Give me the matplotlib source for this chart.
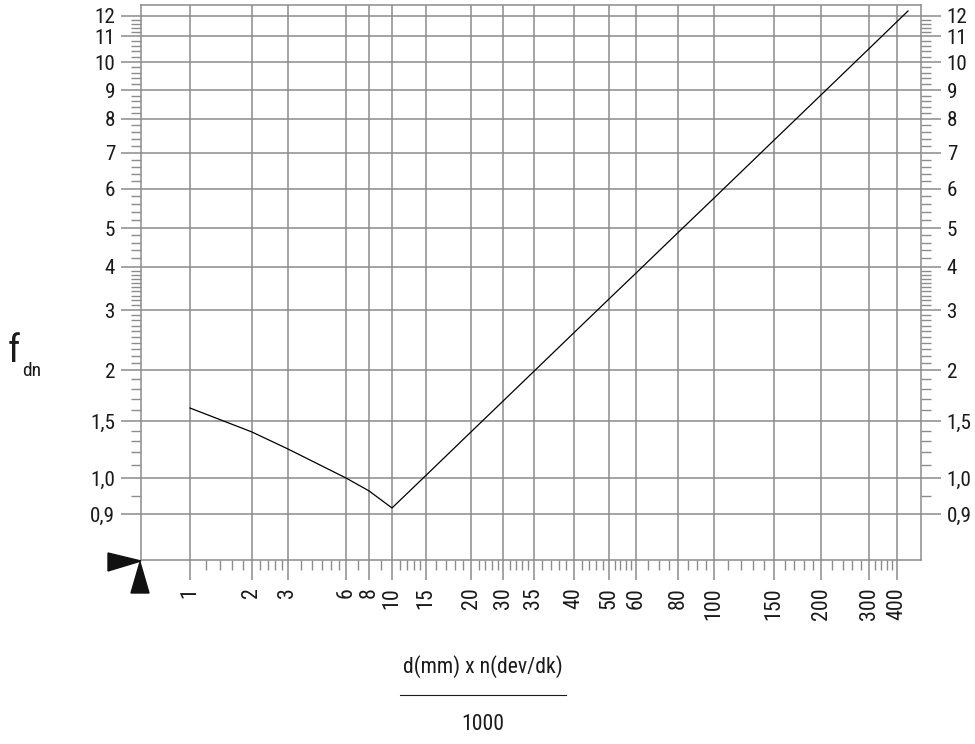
import numpy as np
import matplotlib
matplotlib.use("Agg")
import matplotlib.pyplot as plt
from matplotlib.ticker import FixedLocator, FixedFormatter
from matplotlib.patches import Polygon

plt.rcParams['font.family'] = ['Roboto Condensed', 'DejaVu Sans']

# nomogram scales: value -> printed position (pixels) for each graduation
x_marks = [0.6, 1, 2, 3, 6, 8, 10, 15, 20, 30, 35, 40, 50, 60, 80, 100, 150, 200, 300, 400, 500]
x_pos = [141, 190, 252, 288, 346, 369, 392, 426, 471, 503, 534, 574, 609, 636, 678, 714, 774, 821, 869, 897, 921]
y_marks = [0.75, 0.9, 1.0, 1.5, 2, 3, 4, 5, 6, 7, 8, 9, 10, 11, 12, 13]
y_pos = [-560, -514, -478, -421, -370, -310, -267, -228, -189, -153, -119, -90, -62, -36, -15.7, -5]

x_ticks = [1, 2, 3, 6, 8, 10, 15, 20, 30, 35, 40, 50, 60, 80, 100, 150, 200, 300, 400]
x_labels = ['1', '2', '3', '6', '8', '10', '15', '20', '30', '35', '40', '50', '60', '80',
            '100', '150', '200', '300', '400']
x_minor = [1.2, 1.4, 1.6, 1.8, 2.2, 2.4, 2.6, 2.8, 3.5, 4, 4.5, 5, 5.5, 7, 9,
           11, 12, 13, 14, 16, 17, 18, 19, 22, 24, 26, 28, 31, 32, 33, 34,
           36, 37, 38, 39, 42, 44, 46, 48, 52, 54, 56, 58, 65, 70, 75, 85, 90, 95,
           110, 120, 130, 140, 160, 170, 180, 190, 220, 240, 260, 280, 320, 340, 360, 380]

y_ticks = [0.9, 1.0, 1.5, 2, 3, 4, 5, 6, 7, 8, 9, 10, 11, 12]
y_labels = ['0,9', '1,0', '1,5', '2', '3', '4', '5', '6', '7', '8', '9', '10', '11', '12']
y_minor = [0.95, 1.1, 1.2, 1.3, 1.4, 1.6, 1.7, 1.8, 1.9,
           2.1, 2.2, 2.3, 2.4, 2.5, 2.6, 2.7, 2.8, 2.9,
           3.1, 3.2, 3.3, 3.4, 3.5, 3.6, 3.7, 3.8, 3.9,
           4.2, 4.4, 4.6, 4.8, 5.2, 5.4, 5.6, 5.8, 6.2, 6.4, 6.6, 6.8,
           7.2, 7.4, 7.6, 7.8, 8.2, 8.4, 8.6, 8.8, 9.2, 9.4, 9.6, 9.8,
           10.2, 10.4, 10.6, 10.8, 11.2, 11.4, 11.6, 11.8]

# f_dn curve
d_vals = [1, 2, 3, 6, 8, 10, 15, 20, 30, 35, 40, 50, 60, 80, 100, 150, 200, 300, 400, 443]
f_vals = [1.614, 1.387, 1.229, 1.0, 0.963, 0.916, 1.019, 1.388, 1.678, 1.986, 2.574, 3.23,
          3.84, 4.87, 5.75, 7.36, 8.82, 10.50, 11.70, 12.43]


def make_scale(vals, pos):
    lv = np.log10(vals)

    def fwd(v):
        v = np.asarray(v, dtype=float)
        return np.interp(np.log10(np.clip(v, 1e-6, None)), lv, pos)

    def inv(p):
        return 10 ** np.interp(np.asarray(p, dtype=float), pos, lv)
    return fwd, inv


W, H = 975, 744
GRID = '#8c8c8c'
INK = '#1a1a1a'
fig = plt.figure(figsize=(W / 100, H / 100), dpi=100)
ax = fig.add_axes([141 / W, (H - 560) / H, 780 / W, 555 / H])

ax.set_xscale('function', functions=make_scale(x_marks, x_pos))
ax.set_yscale('function', functions=make_scale(y_marks, y_pos))
ax.set_xlim(x_marks[0], x_marks[-1])
ax.set_ylim(y_marks[0], y_marks[-1])

ax.xaxis.set_major_locator(FixedLocator(x_ticks))
ax.xaxis.set_major_formatter(FixedFormatter(x_labels))
ax.xaxis.set_minor_locator(FixedLocator(x_minor))
ax.yaxis.set_major_locator(FixedLocator(y_ticks))
ax.yaxis.set_major_formatter(FixedFormatter(y_labels))
ax.yaxis.set_minor_locator(FixedLocator(y_minor))
ax.xaxis.set_minor_formatter(FixedFormatter([]))
ax.yaxis.set_minor_formatter(FixedFormatter([]))

ax.grid(which='major', color=GRID, lw=1.1)
ax.yaxis.set_ticks_position('both')
ax.tick_params(axis='y', which='both', labelleft=True, labelright=True)
ax.tick_params(which='major', direction='out', length=14.5, width=1.1, color=GRID,
               labelcolor=INK)
ax.tick_params(which='minor', direction='out', length=7, width=1.0, color=GRID)
ax.tick_params(axis='y', which='major', pad=4, labelsize=15.2)
ax.tick_params(axis='x', which='major', pad=5, labelsize=15.8, labelrotation=90)
for s in ax.spines.values():
    s.set_color(GRID)
    s.set_linewidth(1.1)

ax.plot(d_vals, f_vals, color='black', lw=0.9)

# arrow marks at the origin
fig.patches.append(Polygon([[108 / W, (H - 553) / H], [108 / W, (H - 571) / H], [141 / W, (H - 561) / H]],
                           closed=True, color='#111111', transform=fig.transFigure))
fig.patches.append(Polygon([[131 / W, (H - 593) / H], [149 / W, (H - 593) / H], [140 / W, (H - 562) / H]],
                           closed=True, color='#111111', transform=fig.transFigure))

# axis titles
fig.text(8 / W, (H - 352) / H, 'f', fontsize=28, va='center', ha='left', color=INK)
fig.text(22 / W, (H - 371) / H, 'dn', fontsize=14, va='center', ha='left', color=INK)
fig.text(483 / W, (H - 667) / H, 'd(mm) x n(dev/dk)', fontsize=15.7, ha='center', va='center',
         color=INK)
fig.add_artist(plt.Line2D([400 / W, 566 / W], [(H - 695) / H, (H - 695) / H],
                          color=INK, lw=0.8, transform=fig.transFigure))
fig.text(483 / W, (H - 724) / H, '1000', fontsize=15.7, ha='center', va='center', color=INK)

fig.savefig('out.png', dpi=100)
